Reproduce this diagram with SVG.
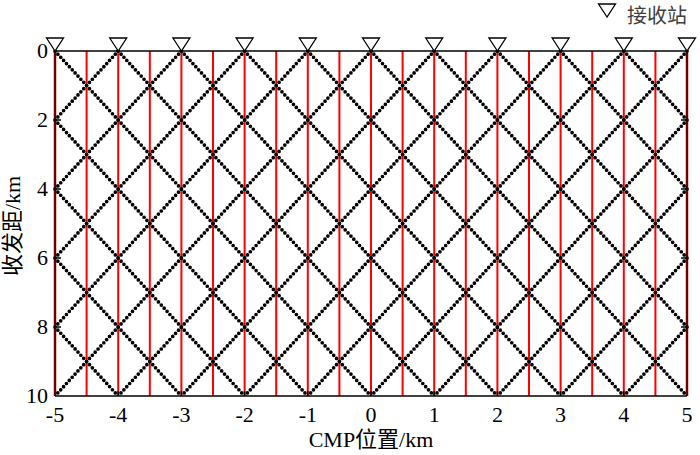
<svg xmlns="http://www.w3.org/2000/svg" width="700" height="455" viewBox="0 0 700 455">
<style>
.red{stroke:#ff0000;stroke-width:2;fill:none}
.dot{stroke:#000;stroke-width:3.7;stroke-linecap:round;stroke-dasharray:0 4.254;fill:none}
.ax{stroke:#000;stroke-width:1.5;fill:none}
.tri{fill:#fff;stroke:#000;stroke-width:1.3}
.t{font-family:"Liberation Serif","Noto Sans CJK SC",serif;font-size:22px;fill:#000}
.lg{font-family:"Noto Sans CJK SC","Liberation Serif",serif;font-size:20px;fill:#404040}
</style>
<rect width="700" height="455" fill="#fff"/>
<g id="redlines">
<line class="red" x1="86.6" y1="51" x2="86.6" y2="396"/>
<line class="red" x1="118.2" y1="51" x2="118.2" y2="396"/>
<line class="red" x1="149.8" y1="51" x2="149.8" y2="396"/>
<line class="red" x1="181.4" y1="51" x2="181.4" y2="396"/>
<line class="red" x1="213" y1="51" x2="213" y2="396"/>
<line class="red" x1="244.6" y1="51" x2="244.6" y2="396"/>
<line class="red" x1="276.2" y1="51" x2="276.2" y2="396"/>
<line class="red" x1="307.8" y1="51" x2="307.8" y2="396"/>
<line class="red" x1="339.4" y1="51" x2="339.4" y2="396"/>
<line class="red" x1="371" y1="51" x2="371" y2="396"/>
<line class="red" x1="402.6" y1="51" x2="402.6" y2="396"/>
<line class="red" x1="434.2" y1="51" x2="434.2" y2="396"/>
<line class="red" x1="465.8" y1="51" x2="465.8" y2="396"/>
<line class="red" x1="497.4" y1="51" x2="497.4" y2="396"/>
<line class="red" x1="529" y1="51" x2="529" y2="396"/>
<line class="red" x1="560.6" y1="51" x2="560.6" y2="396"/>
<line class="red" x1="592.2" y1="51" x2="592.2" y2="396"/>
<line class="red" x1="623.8" y1="51" x2="623.8" y2="396"/>
<line class="red" x1="655.4" y1="51" x2="655.4" y2="396"/>
<line stroke="#c00000" stroke-width="2.5" x1="55" y1="51" x2="55" y2="396"/>
<line stroke="#c00000" stroke-width="2.5" x1="687" y1="51" x2="687" y2="396"/>
</g>
<g id="connectors">
<line class="dot" x1="55" y1="51" x2="371" y2="396"/>
<line class="dot" x1="118.2" y1="51" x2="434.2" y2="396"/>
<line class="dot" x1="181.4" y1="51" x2="497.4" y2="396"/>
<line class="dot" x1="244.6" y1="51" x2="560.6" y2="396"/>
<line class="dot" x1="307.8" y1="51" x2="623.8" y2="396"/>
<line class="dot" x1="371" y1="51" x2="687" y2="396"/>
<line class="dot" x1="434.2" y1="51" x2="687" y2="327"/>
<line class="dot" x1="497.4" y1="51" x2="687" y2="258"/>
<line class="dot" x1="560.6" y1="51" x2="687" y2="189"/>
<line class="dot" x1="623.8" y1="51" x2="687" y2="120"/>
<line class="dot" x1="55" y1="120" x2="307.8" y2="396"/>
<line class="dot" x1="55" y1="189" x2="244.6" y2="396"/>
<line class="dot" x1="55" y1="258" x2="181.4" y2="396"/>
<line class="dot" x1="55" y1="327" x2="118.2" y2="396"/>
<line class="dot" x1="687" y1="51" x2="371" y2="396"/>
<line class="dot" x1="623.8" y1="51" x2="307.8" y2="396"/>
<line class="dot" x1="560.6" y1="51" x2="244.6" y2="396"/>
<line class="dot" x1="497.4" y1="51" x2="181.4" y2="396"/>
<line class="dot" x1="434.2" y1="51" x2="118.2" y2="396"/>
<line class="dot" x1="371" y1="51" x2="55" y2="396"/>
<line class="dot" x1="307.8" y1="51" x2="55" y2="327"/>
<line class="dot" x1="244.6" y1="51" x2="55" y2="258"/>
<line class="dot" x1="181.4" y1="51" x2="55" y2="189"/>
<line class="dot" x1="118.2" y1="51" x2="55" y2="120"/>
<line class="dot" x1="687" y1="120" x2="434.2" y2="396"/>
<line class="dot" x1="687" y1="189" x2="497.4" y2="396"/>
<line class="dot" x1="687" y1="258" x2="560.6" y2="396"/>
<line class="dot" x1="687" y1="327" x2="623.8" y2="396"/>
</g>
<g id="axes">
<line class="ax" x1="55" y1="51" x2="687" y2="51"/>
<line class="ax" x1="55" y1="396" x2="687" y2="396"/>
<line stroke="#000" stroke-width="0.9" x1="55" y1="51" x2="55" y2="396"/>
<line stroke="#000" stroke-width="0.9" x1="687" y1="51" x2="687" y2="396"/>
<path class="ax" d="M55,120h6M55,189h6M55,258h6M55,327h6M687,120h-6M687,189h-6M687,258h-6M687,327h-6"/>
<path class="ax" d="M118.2,396v-5M181.4,396v-5M244.6,396v-5M307.8,396v-5M371,396v-5M434.2,396v-5M497.4,396v-5M560.6,396v-5M623.8,396v-5"/>
</g>
<g id="receivers">
<path class="tri" d="M55,51l-8.5,-13h17z"/>
<path class="tri" d="M118.2,51l-8.5,-13h17z"/>
<path class="tri" d="M181.4,51l-8.5,-13h17z"/>
<path class="tri" d="M244.6,51l-8.5,-13h17z"/>
<path class="tri" d="M307.8,51l-8.5,-13h17z"/>
<path class="tri" d="M371,51l-8.5,-13h17z"/>
<path class="tri" d="M434.2,51l-8.5,-13h17z"/>
<path class="tri" d="M497.4,51l-8.5,-13h17z"/>
<path class="tri" d="M560.6,51l-8.5,-13h17z"/>
<path class="tri" d="M623.8,51l-8.5,-13h17z"/>
<path class="tri" d="M687,51l-8.5,-13h17z"/>
</g>
<g id="yticks" class="t" text-anchor="end">
<text x="48" y="58">0</text>
<text x="48" y="127">2</text>
<text x="48" y="196">4</text>
<text x="48" y="265">6</text>
<text x="48" y="334">8</text>
<text x="48" y="403">10</text>
</g>
<g id="xticks" class="t" text-anchor="middle">
<text x="55" y="422">-5</text>
<text x="118.2" y="422">-4</text>
<text x="181.4" y="422">-3</text>
<text x="244.6" y="422">-2</text>
<text x="307.8" y="422">-1</text>
<text x="371" y="422">0</text>
<text x="434.2" y="422">1</text>
<text x="497.4" y="422">2</text>
<text x="560.6" y="422">3</text>
<text x="623.8" y="422">4</text>
<text x="687" y="422">5</text>
</g>
<g id="titles" class="t" text-anchor="middle">
<text x="371" y="447">CMP位置/km</text>
<text transform="translate(20,226) rotate(-90)">收发距/km</text>
</g>
<g id="legend">
<path class="tri" d="M607,17l-8.5,-13h17z"/>
<text class="lg" x="627" y="23">接收站</text>
</g>
</svg>
